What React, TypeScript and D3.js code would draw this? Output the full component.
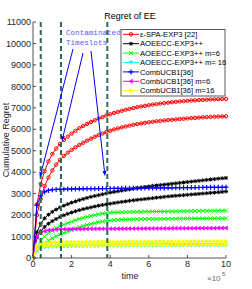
import React from 'react';
import * as d3 from 'd3';

// time grid, x 10^5
const time = d3.range(0, 10.001, 0.2);

const redUpper = [0, 2500, 3450, 4050, 4500, 4850, 5100, 5320, 5500, 5660, 5800, 5930, 6050, 6150, 6250, 6340, 6420, 6500, 6570, 6640, 6700, 6760, 6810, 6860, 6910, 6950, 6990, 7030, 7060, 7090, 7120, 7150, 7170, 7200, 7220, 7240, 7260, 7280, 7295, 7310, 7325, 7340, 7350, 7360, 7370, 7380, 7390, 7395, 7400, 7410, 7415];
const redLower = [0, 2000, 2750, 3350, 3750, 4080, 4350, 4580, 4760, 4910, 5040, 5160, 5270, 5370, 5470, 5560, 5650, 5730, 5800, 5870, 5930, 5990, 6040, 6090, 6130, 6170, 6210, 6240, 6270, 6300, 6325, 6350, 6370, 6390, 6410, 6430, 6445, 6460, 6475, 6490, 6505, 6520, 6530, 6545, 6555, 6565, 6575, 6585, 6590, 6598, 6605];
const blackUpper = [0, 1200, 1600, 1850, 2020, 2150, 2260, 2360, 2440, 2510, 2580, 2640, 2700, 2750, 2800, 2850, 2890, 2930, 2970, 3010, 3050, 3080, 3110, 3140, 3170, 3200, 3230, 3260, 3285, 3310, 3335, 3360, 3380, 3400, 3420, 3440, 3460, 3480, 3500, 3520, 3540, 3560, 3580, 3600, 3620, 3640, 3660, 3680, 3700, 3715, 3730];
const blackLower = [0, 950, 1250, 1450, 1600, 1720, 1820, 1910, 1990, 2060, 2120, 2180, 2230, 2280, 2320, 2360, 2400, 2440, 2470, 2500, 2530, 2560, 2590, 2615, 2640, 2665, 2690, 2710, 2730, 2750, 2770, 2790, 2810, 2830, 2850, 2870, 2885, 2900, 2915, 2930, 2945, 2960, 2975, 2990, 3005, 3020, 3035, 3050, 3065, 3080, 3100];
const greenUpper = [0, 500, 800, 1000, 1150, 1280, 1390, 1480, 1560, 1630, 1700, 1760, 1820, 1870, 1920, 1960, 2000, 2040, 2070, 2090, 2110, 2120, 2130, 2135, 2140, 2145, 2150, 2152, 2155, 2158, 2160, 2163, 2166, 2168, 2170, 2173, 2176, 2178, 2180, 2183, 2186, 2188, 2190, 2193, 2196, 2198, 2200, 2203, 2206, 2208, 2210];
const greenLower = [0, 350, 550, 700, 820, 920, 1010, 1090, 1160, 1230, 1300, 1370, 1430, 1490, 1540, 1590, 1630, 1670, 1700, 1730, 1750, 1770, 1780, 1790, 1795, 1800, 1805, 1808, 1810, 1813, 1816, 1818, 1820, 1822, 1824, 1826, 1828, 1830, 1832, 1834, 1836, 1838, 1840, 1842, 1843, 1844, 1845, 1846, 1847, 1848, 1850];
const cyanVals = [0, 380, 460, 500, 520, 535, 545, 552, 558, 563, 567, 570, 573, 576, 578, 580, 582, 584, 585, 586, 587, 588, 589, 590, 591, 592, 593, 594, 595, 596, 597, 598, 599, 600, 601, 602, 602, 603, 603, 604, 604, 605, 605, 606, 606, 607, 607, 608, 608, 609, 610];
const blueVals = [0, 2450, 2900, 3080, 3150, 3180, 3195, 3205, 3210, 3215, 3218, 3220, 3222, 3225, 3228, 3230, 3232, 3234, 3236, 3238, 3240, 3242, 3244, 3246, 3248, 3250, 3252, 3254, 3256, 3258, 3260, 3262, 3264, 3266, 3268, 3270, 3272, 3274, 3276, 3278, 3280, 3282, 3284, 3286, 3288, 3290, 3292, 3294, 3296, 3298, 3300];
const magentaVals = [0, 1000, 1180, 1250, 1290, 1310, 1325, 1335, 1340, 1345, 1350, 1352, 1354, 1356, 1358, 1360, 1361, 1362, 1363, 1364, 1365, 1366, 1367, 1368, 1369, 1370, 1371, 1372, 1373, 1374, 1375, 1376, 1377, 1378, 1379, 1380, 1381, 1382, 1383, 1384, 1385, 1386, 1387, 1388, 1389, 1390, 1391, 1392, 1393, 1394, 1395];
const yellowUpper = [0, 560, 650, 690, 710, 720, 728, 734, 738, 742, 745, 747, 749, 751, 752, 753, 754, 755, 756, 757, 758, 759, 760, 761, 762, 763, 764, 765, 766, 767, 768, 769, 770, 770, 771, 771, 772, 772, 773, 773, 774, 774, 775, 775, 776, 776, 777, 777, 778, 779, 780];
const yellowLower = [0, 420, 500, 540, 560, 570, 577, 582, 586, 589, 592, 594, 596, 597, 598, 599, 600, 601, 602, 603, 604, 605, 606, 607, 608, 609, 610, 611, 612, 613, 614, 615, 616, 617, 618, 619, 620, 621, 622, 623, 624, 625, 626, 627, 628, 629, 630, 631, 632, 633, 634];

const legendLabels = ['\u03b5-SPA-EXP3 [22]', 'AOEECC-EXP3++', 'AOEECC-EXP3++ m=6', 'AOEECC-EXP3++ m= 16', 'CombUCB1[36]', 'CombUCB1[36] m=6', 'CombUCB1[36] m=16'];
const legendColors = ['#ff0000', '#000000', '#00ff00', '#00ffff', '#0000ff', '#ff00ff', '#ffff00'];
const legendMarkers = ['o', '*', 'x', 'v', '+', '<', '>'];

const contaminated = [0.4, 1.45, 3.85];
const xTicks = [0, 2, 4, 6, 8, 10];
const yTicks = d3.range(0, 11001, 1000);

const series = [
  { values: redUpper, color: '#ff0000', marker: 'o' },
  { values: redLower, color: '#ff0000', marker: 'o' },
  { values: blackUpper, color: '#000000', marker: '*' },
  { values: blackLower, color: '#000000', marker: '*' },
  { values: greenUpper, color: '#00ff00', marker: 'x' },
  { values: greenLower, color: '#00ff00', marker: 'x' },
  { values: cyanVals, color: '#00ffff', marker: 'v' },
  { values: blueVals, color: '#0000ff', marker: '+' },
  { values: magentaVals, color: '#ff00ff', marker: '<' },
  { values: yellowLower, color: '#ffff00', marker: '>' },
  { values: yellowUpper, color: '#ffff00', marker: '>' },
];

const Marker = ({ type, x, y, color }: { type: string; x: number; y: number; color: string }) => {
  const s = 2;
  if (type === 'o') return <circle cx={x} cy={y} r={1.7} fill="none" stroke={color} strokeWidth={1} />;
  if (type === '*')
    return (
      <path d={`M${x - s},${y}H${x + s}M${x},${y - s}V${y + s}M${x - 1.5},${y - 1.5}L${x + 1.5},${y + 1.5}M${x - 1.5},${y + 1.5}L${x + 1.5},${y - 1.5}`} stroke={color} strokeWidth={1} />
    );
  if (type === 'x') return <path d={`M${x - s},${y - s}L${x + s},${y + s}M${x - s},${y + s}L${x + s},${y - s}`} stroke={color} strokeWidth={1} />;
  if (type === '+') return <path d={`M${x - 2.5},${y}H${x + 2.5}M${x},${y - 2.5}V${y + 2.5}`} stroke={color} strokeWidth={1.2} />;
  if (type === 'v') return <path d={`M${x - s},${y - 1.5}L${x + s},${y - 1.5}L${x},${y + 2}Z`} fill={color} stroke={color} strokeWidth={0.6} />;
  if (type === '<') return <path d={`M${x + 1.5},${y - s}L${x + 1.5},${y + s}L${x - 2},${y}Z`} fill={color} stroke={color} strokeWidth={0.6} />;
  return <path d={`M${x - 1.5},${y - s}L${x - 1.5},${y + s}L${x + 2},${y}Z`} fill={color} stroke={color} strokeWidth={0.6} />;
};

const Arrow = ({ x1, y1, x2, y2 }: { x1: number; y1: number; x2: number; y2: number }) => {
  const a = Math.atan2(y2 - y1, x2 - x1);
  const len = 5;
  const w = 2;
  const bx = x2 - len * Math.cos(a);
  const by = y2 - len * Math.sin(a);
  const px = -Math.sin(a) * w;
  const py = Math.cos(a) * w;
  return (
    <g>
      <line x1={x1} y1={y1} x2={bx} y2={by} stroke="#0000ff" strokeWidth={1} />
      <path d={`M${x2},${y2}L${bx + px},${by + py}L${bx - px},${by - py}Z`} fill="#0000ff" />
    </g>
  );
};

export default function App() {
  const width = 252;
  const height = 289;
  const x = d3.scaleLinear().domain([0, 10]).range([33, 226]);
  const y = d3.scaleLinear().domain([0, 11000]).range([258, 22]);
  const line = d3.line<number>().x((_, i) => x(time[i])).y(d => y(d));
  const axisColor = '#262626';
  const font = 'Liberation Sans, Arial, sans-serif';

  return (
    <svg width={width} height={height} style={{ position: 'absolute', left: 0, top: 0, background: '#fff' }} fontFamily={font}>
      <rect width={width} height={height} fill="#fff" />
      {/* series */}
      {series.map((s, i) => (
        <g key={i}>
          <path d={line(s.values) || ''} fill="none" stroke={s.color} strokeWidth={1} />
          {s.values.map((v, j) => (
            <Marker key={j} type={s.marker} x={x(time[j])} y={y(v)} color={s.color} />
          ))}
        </g>
      ))}
      {/* contaminated timeslots */}
      {contaminated.map((t, i) => (
        <line key={i} x1={x(t)} x2={x(t)} y1={y(11000)} y2={y(0)} stroke="#2f6b4f" strokeWidth={2} strokeDasharray="5,3" />
      ))}
      {/* axes */}
      <line x1={33} x2={33} y1={y(11000)} y2={y(0)} stroke={axisColor} strokeWidth={0.8} />
      <line x1={33} x2={226} y1={y(0)} y2={y(0)} stroke={axisColor} strokeWidth={0.8} />
      {yTicks.map(t => (
        <g key={t}>
          <line x1={33} x2={36} y1={y(t)} y2={y(t)} stroke={axisColor} strokeWidth={0.8} />
          <text x={31} y={y(t)} dy="0.35em" textAnchor="end" fontSize={9} fill={axisColor}>{t}</text>
        </g>
      ))}
      {xTicks.map(t => (
        <g key={t}>
          <line x1={x(t)} x2={x(t)} y1={y(0)} y2={y(0) - 3} stroke={axisColor} strokeWidth={0.8} />
          <text x={x(t)} y={267} textAnchor="middle" fontSize={9} fill={axisColor}>{t}</text>
        </g>
      ))}
      <text x={130} y={279} textAnchor="middle" fontSize={9} fill={axisColor}>time</text>
      <text x={207} y={281} fontSize={8} fill="#666">×10</text>
      <text x={222} y={276} fontSize={6} fill="#666">5</text>
      <text transform={`translate(9,${y(5500)}) rotate(-90)`} textAnchor="middle" fontSize={9} fill={axisColor}>Cumulative Regret</text>
      <text x={130} y={19} textAnchor="middle" fontSize={9} fill="#000">Regret of EE</text>
      {/* annotation */}
      <text x={66} y={35} fontSize={7.6} fontFamily="Liberation Mono, DejaVu Sans Mono, monospace" fill="#5a5aff">Contaminated</text>
      <text x={66} y={44.5} fontSize={7.6} fontFamily="Liberation Mono, DejaVu Sans Mono, monospace" fill="#5a5aff">Timeslots</text>
      <Arrow x1={73} y1={49} x2={40} y2={177} />
      <Arrow x1={83} y1={53} x2={62} y2={141} />
      <Arrow x1={91} y1={51} x2={105} y2={176} />
      {/* legend */}
      <rect x={121} y={29.5} width={104} height={66.5} fill="#fff" stroke="#333" strokeWidth={0.8} />
      {legendLabels.map((l, i) => {
        const ly = 34.3 + i * 9.4;
        return (
          <g key={l}>
            <line x1={123} x2={139} y1={ly} y2={ly} stroke={legendColors[i]} strokeWidth={1} />
            <Marker type={legendMarkers[i]} x={131} y={ly} color={legendColors[i]} />
            <text x={140} y={ly} dy="0.35em" fontSize={7.6} fill="#000">{l}</text>
          </g>
        );
      })}
    </svg>
  );
}
